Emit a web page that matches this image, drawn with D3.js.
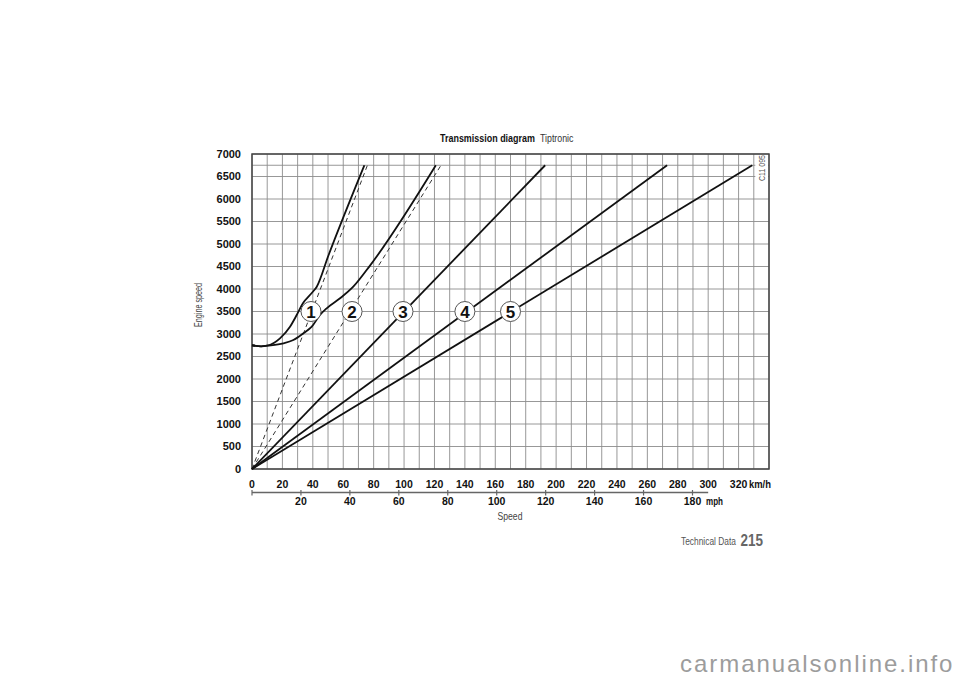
<!DOCTYPE html>
<html><head><meta charset="utf-8">
<script src="https://cdnjs.cloudflare.com/ajax/libs/d3/7.8.5/d3.min.js"></script>
<style>body{margin:0;background:#fff}svg{display:block}</style>
</head><body><svg id="c" width="960" height="678"></svg>
<script>
// ---------- data ----------
const kmhTicks = d3.range(0, 321, 20);
const mphTicks = [20, 40, 60, 80, 100, 120, 140, 160, 180];
const rpmTicks = d3.range(0, 7001, 500);
const gridKmh = d3.range(0, 341, 10);
const gridRpm = d3.range(0, 7001, 500).concat([6750]);
const maxRpm = 6750;
// converter (slip) curves, [km/h, rpm]
const gear1Curve = [[0,2750],[6,2725],[10,2740],[18.4,2904],[25,3162],[29.4,3422],[33.6,3689],[39.3,3911],[42.6,4051],[50.2,4740],[73.9,6750]];
const gear2Curve = [[0,2750],[6,2725],[10,2740],[20.6,2793],[27.2,2867],[33.8,3016],[39.3,3162],[44.7,3422],[49.1,3571],[57.9,3793],[66.6,4051],[77.6,4520],[120.9,6750]];
// straight gear lines: speed at max rpm
const solidGearSpeeds = [192.8, 273, 329];      // gears 3,4,5
const dashedGearSpeeds = [75.9, 124.3];          // gears 1,2 locked
const gearLabels = ["1","2","3","4","5"];
const gearLabelSpeeds = [38.8, 65.8, 99.3, 140, 170];
const gearLabelRpm = 3500;

// ---------- fonts ----------
function fontAvailable(name){
  const c = document.createElement('canvas').getContext('2d');
  const s = 'Transmission diagram 0123';
  c.font = '20px monospace'; const a = c.measureText(s).width;
  c.font = '20px "' + name + '", monospace'; const b = c.measureText(s).width;
  return Math.abs(a-b) > 0.5;
}
const NARROW = fontAvailable('Liberation Sans Narrow');
const narrowFam = '"Liberation Sans Narrow", "Liberation Sans", Arial, sans-serif';
const wideFam = '"Liberation Sans", Arial, sans-serif';

const svg = d3.select('#c');
// condensed text: placed at (px,py), rotated by rot, horizontally squeezed to width w
function ntext(px, py, rot, w, txt, size, weight, fill){
  const grp = svg.append('g');
  const t = grp.append('text').attr('font-family', narrowFam).attr('font-size', size)
    .attr('font-weight', weight).attr('fill', fill).text(txt);
  const nat = t.node().getComputedTextLength();
  const k = NARROW ? 1 : w / nat;
  grp.attr('transform', `translate(${px},${py}) rotate(${rot}) scale(${k},1)`);
  return grp;
}

// ---------- scales ----------
const x = d3.scaleLinear().domain([0, 340]).range([252, 769]);
const y = d3.scaleLinear().domain([0, 7000]).range([469, 154]);
const KMH_PER_MPH = 1.609344;

// grid
const g = svg.append('g');
g.selectAll('line.v').data(gridKmh).join('line')
  .attr('x1', d => x(d)).attr('x2', d => x(d)).attr('y1', y(7000)).attr('y2', y(0))
  .attr('stroke', '#8c8c8c').attr('stroke-width', 0.9);
g.selectAll('line.h').data(gridRpm).join('line')
  .attr('x1', x(0)).attr('x2', x(340)).attr('y1', d => y(d)).attr('y2', d => y(d))
  .attr('stroke', '#8c8c8c').attr('stroke-width', 0.9);

// code label background + text
svg.append('rect').attr('x', x(331)).attr('y', y(7000)+1).attr('width', x(340)-x(331)-1).attr('height', 28).attr('fill', '#fff');
ntext(x(335.5)+3, y(7000)+27, -90, 26, 'C11 095', 9, 'normal', '#555');

// frame
svg.append('rect').attr('x', x(0)).attr('y', y(7000)).attr('width', x(340)-x(0)).attr('height', y(0)-y(7000))
  .attr('fill','none').attr('stroke','#444').attr('stroke-width',1.5);

// lines
const line = d3.line().x(d => x(d[0])).y(d => y(d[1]));
const smooth = d3.line().x(d => x(d[0])).y(d => y(d[1])).curve(d3.curveMonotoneX);

svg.selectAll('path.dash').data(dashedGearSpeeds).join('path')
  .attr('d', v => line([[0,0],[v,maxRpm]]))
  .attr('fill','none').attr('stroke','#333').attr('stroke-width',1).attr('stroke-dasharray','4.5,3.5');
svg.selectAll('path.solid').data(solidGearSpeeds).join('path')
  .attr('d', v => line([[0,0],[v,maxRpm]]))
  .attr('fill','none').attr('stroke','#111').attr('stroke-width',1.8);
svg.selectAll('path.curve').data([gear1Curve, gear2Curve]).join('path')
  .attr('d', d => smooth(d))
  .attr('fill','none').attr('stroke','#111').attr('stroke-width',1.8).attr('stroke-linejoin','round');

// gear circles
const gc = svg.selectAll('g.gc').data(gearLabels).join('g')
  .attr('transform', (d,i) => `translate(${x(gearLabelSpeeds[i])},${y(gearLabelRpm)})`);
gc.append('circle').attr('r', 10).attr('fill','#fff').attr('stroke','#555').attr('stroke-width',1);
gc.append('text').attr('text-anchor','middle').attr('y', 6.2)
  .attr('font-family', wideFam).attr('font-weight','bold').attr('font-size', 17).attr('fill','#111')
  .text(d => d);

// y axis labels
svg.selectAll('text.yl').data(rpmTicks).join('text')
  .attr('x', 241).attr('y', d => y(d) + 3.8).attr('text-anchor','end')
  .attr('font-family', wideFam).attr('font-weight','bold').attr('font-size', 11).attr('fill','#111')
  .text(d => d);

// km/h labels
svg.selectAll('text.xl').data(kmhTicks).join('text')
  .attr('x', d => x(d)).attr('y', 487.5).attr('text-anchor','middle')
  .attr('font-family', wideFam).attr('font-weight','bold').attr('font-size', 10.5).attr('fill','#111')
  .text(d => d);
ntext(749, 487.5, 0, 22, 'km/h', 10, 'bold', '#111');

// mph axis
svg.append('line').attr('x1', x(0)).attr('x2', x(300)).attr('y1', 492.5).attr('y2', 492.5)
  .attr('stroke','#666').attr('stroke-width',1.3);
svg.selectAll('line.mt').data([0].concat(mphTicks)).join('line')
  .attr('x1', d => x(d*KMH_PER_MPH)).attr('x2', d => x(d*KMH_PER_MPH)).attr('y1', 490).attr('y2', 495.5)
  .attr('stroke','#666').attr('stroke-width',1.2);
svg.selectAll('text.ml').data(mphTicks).join('text')
  .attr('x', d => x(d*KMH_PER_MPH)).attr('y', 504.5).attr('text-anchor','middle')
  .attr('font-family', wideFam).attr('font-weight','bold').attr('font-size', 10.5).attr('fill','#111')
  .text(d => d);
ntext(706, 505, 0, 17, 'mph', 10, 'bold', '#111');

// axis titles
ntext(497.5, 519.5, 0, 25, 'Speed', 10, 'normal', '#444');
ntext(201.5, 327, -90, 44, 'Engine speed', 10, 'normal', '#444');

// title
ntext(440, 142, 0, 95, 'Transmission diagram', 11.5, 'bold', '#111');
ntext(540, 142, 0, 33.5, 'Tiptronic', 10.5, 'normal', '#333');

// footer
ntext(681, 545, 0, 55, 'Technical Data', 10, 'normal', '#555');
ntext(740.5, 545.5, 0, 22.5, '215', 17, 'bold', '#666');

// watermark
svg.append('text').attr('x', 680).attr('y', 672)
  .attr('font-family', wideFam).attr('font-size', 24).attr('letter-spacing', 1.95).attr('fill','#9c9c9c')
  .text('carmanualsonline.info');
</script></body></html>
